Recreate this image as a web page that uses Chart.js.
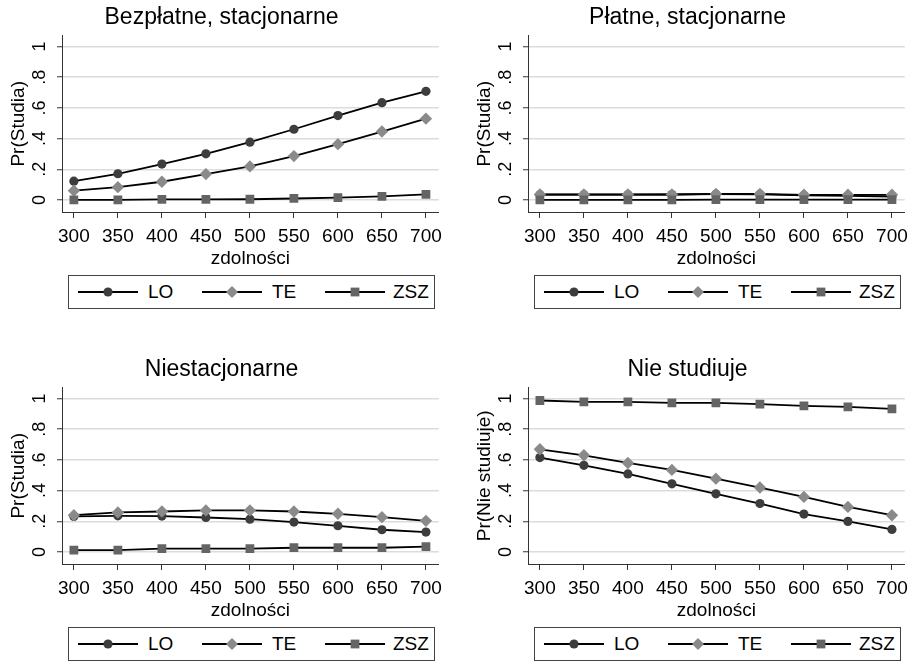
<!DOCTYPE html>
<html>
<head>
<meta charset="utf-8">
<script src="https://cdn.jsdelivr.net/npm/chart.js@4/dist/chart.umd.min.js"></script>
<style>
  body { margin: 0; background: #fff; width: 915px; height: 663px; overflow: hidden; position: relative;
         font-family: "Liberation Sans", Arial, sans-serif; }
  .panel { position: absolute; width: 449px; height: 311px; }
  .panel canvas { position: absolute; left: 0; top: 0; }
  .legend { position: absolute; left: 68px; top: 275px; width: 365px; height: 32px; border: 1px solid #444; }
  .legend svg { position: absolute; top: 9px; }
  .legend span { position: absolute; top: 5px; font-size: 19px; line-height: 22px; color: #000; }
</style>
</head>
<body>
<div class="panel" style="left:0;top:0"><canvas id="c1" width="449" height="270"></canvas><div class="legend" id="l1"></div></div>
<div class="panel" style="left:466px;top:0"><canvas id="c2" width="449" height="270"></canvas><div class="legend" id="l2"></div></div>
<div class="panel" style="left:0;top:352px"><canvas id="c3" width="449" height="270"></canvas><div class="legend" id="l3"></div></div>
<div class="panel" style="left:466px;top:352px"><canvas id="c4" width="449" height="270"></canvas><div class="legend" id="l4"></div></div>

<script>
// x values (zdolności) and axis ticks
const zdolnosci = [300, 350, 400, 450, 500, 550, 600, 650, 700];
const xTicks = [300, 350, 400, 450, 500, 550, 600, 650, 700];
const yTicks = [0, 0.2, 0.4, 0.6, 0.8, 1];
const yTickLabels = ['0', '.2', '.4', '.6', '.8', '1'];
const seriesNames = ['LO', 'TE', 'ZSZ'];

// Bezpłatne, stacjonarne
const bezplatneLO  = [0.123, 0.171, 0.234, 0.301, 0.377, 0.461, 0.550, 0.634, 0.708];
const bezplatneTE  = [0.061, 0.084, 0.119, 0.169, 0.219, 0.286, 0.364, 0.446, 0.530];
const bezplatneZSZ = [0.001, 0.001, 0.004, 0.004, 0.005, 0.010, 0.016, 0.024, 0.037];

// Płatne, stacjonarne
const platneLO  = [0.035, 0.035, 0.035, 0.036, 0.038, 0.037, 0.030, 0.028, 0.022];
const platneTE  = [0.036, 0.036, 0.036, 0.036, 0.040, 0.040, 0.034, 0.034, 0.034];
const platneZSZ = [0.001, 0.001, 0.001, 0.001, 0.002, 0.002, 0.002, 0.002, 0.002];

// Niestacjonarne
const niestLO  = [0.232, 0.236, 0.234, 0.225, 0.214, 0.195, 0.171, 0.145, 0.130];
const niestTE  = [0.240, 0.258, 0.264, 0.271, 0.271, 0.264, 0.249, 0.227, 0.203];
const niestZSZ = [0.013, 0.013, 0.022, 0.022, 0.022, 0.028, 0.028, 0.028, 0.035];

// Nie studiuje
const nieLO  = [0.615, 0.565, 0.509, 0.444, 0.379, 0.316, 0.247, 0.199, 0.147];
const nieTE  = [0.669, 0.630, 0.580, 0.535, 0.478, 0.420, 0.359, 0.294, 0.240];
const nieZSZ = [0.987, 0.978, 0.978, 0.972, 0.972, 0.963, 0.952, 0.946, 0.933];

const FONT = '"Liberation Sans", Arial, sans-serif';
const markers = [
  { style: 'circle',  radius: 4.6, color: '#3d3d3d' },
  { style: 'rectRot', radius: 6.2, color: '#8a8a8a' },
  { style: 'rect',    radius: 6.2, color: '#646464' }
];

// rotated y tick labels and y title, drawn like Stata does
const yLabels = {
  id: 'yLabels',
  afterDraw(chart, args, opts) {
    const { ctx, chartArea } = chart;
    const y = chart.scales.y;
    ctx.save();
    ctx.fillStyle = '#000';
    ctx.textAlign = 'center';
    ctx.textBaseline = 'alphabetic';
    ctx.font = '18px ' + FONT;
    yTicks.forEach((v, i) => {
      ctx.save();
      ctx.translate(45, y.getPixelForValue(v));
      ctx.rotate(-Math.PI / 2);
      ctx.fillText(yTickLabels[i], 0, 0);
      ctx.restore();
    });
    ctx.font = '19px ' + FONT;
    ctx.translate(24, (chartArea.top + chartArea.bottom) / 2);
    ctx.rotate(-Math.PI / 2);
    ctx.fillText(opts.text, 0, 0);
    ctx.restore();
  }
};

function makeChart(id, title, yTitle, lo, te, zsz) {
  const data = [lo, te, zsz];
  new Chart(document.getElementById(id), {
    type: 'line',
    data: {
      datasets: data.map((vals, i) => ({
        label: seriesNames[i],
        data: zdolnosci.map((x, j) => ({ x: x, y: vals[j] })),
        borderColor: '#000',
        borderWidth: 1.8,
        pointStyle: markers[i].style,
        pointRadius: markers[i].radius,
        pointBackgroundColor: markers[i].color,
        pointBorderColor: markers[i].color,
        pointBorderWidth: 0,
        order: 3 - i,
        tension: 0
      }))
    },
    options: {
      responsive: false,
      animation: false,
      devicePixelRatio: 1,
      layout: { padding: { left: 0, right: 6, top: 0, bottom: 0 } },
      plugins: {
        legend: { display: false },
        tooltip: { enabled: false },
        title: {
          display: true, text: title, color: '#000',
          font: { family: FONT, size: 23, weight: 'normal', lineHeight: 1.2 },
          padding: { top: 4, bottom: 4 }
        },
        yLabels: { text: yTitle }
      },
      scales: {
        x: {
          type: 'linear', min: 286.5, max: 714.6,
          afterBuildTicks: s => { s.ticks = xTicks.map(v => ({ value: v })); },
          afterFit: s => { s.height = 58; },
          ticks: { color: '#000', padding: 7, font: { family: FONT, size: 19 }, callback: v => String(v), maxRotation: 0 },
          grid: { drawOnChartArea: false, drawTicks: true, tickLength: 6, tickColor: '#333', tickWidth: 1 },
          border: { display: true, color: '#333', width: 1 },
          title: { display: true, text: 'zdolności', color: '#000', font: { family: FONT, size: 19 }, padding: { top: 0, bottom: 0 } }
        },
        y: {
          type: 'linear', min: -0.078, max: 1.071,
          afterBuildTicks: s => { s.ticks = yTicks.map(v => ({ value: v })); },
          afterFit: s => { s.width = 62; },
          ticks: { display: false },
          grid: { color: '#dcdcdc', lineWidth: 1.5, drawTicks: true, tickLength: 5, tickColor: '#333', tickWidth: 1 },
          border: { display: true, color: '#333', width: 1 }
        }
      }
    },
    plugins: [yLabels]
  });
}

function makeLegend(id) {
  const el = document.getElementById(id);
  const lineX = [9, 133, 256];
  const textX = [79, 203, 324];
  seriesNames.forEach((name, i) => {
    const m = markers[i];
    let mk;
    if (m.style === 'circle') mk = `<circle cx="30" cy="7" r="4.6" fill="${m.color}"/>`;
    else if (m.style === 'rectRot') mk = `<polygon points="30,1 36,7 30,13 24,7" fill="${m.color}"/>`;
    else mk = `<rect x="25.6" y="2.6" width="8.8" height="8.8" fill="${m.color}"/>`;
    el.innerHTML += `<svg width="60" height="14" style="left:${lineX[i]}px"><line x1="0" y1="7" x2="60" y2="7" stroke="#000" stroke-width="1.8"/>${mk}</svg>` +
      `<span style="left:${textX[i]}px">${name}</span>`;
  });
}

makeChart('c1', 'Bezpłatne, stacjonarne', 'Pr(Studia)', bezplatneLO, bezplatneTE, bezplatneZSZ);
makeChart('c2', 'Płatne, stacjonarne', 'Pr(Studia)', platneLO, platneTE, platneZSZ);
makeChart('c3', 'Niestacjonarne', 'Pr(Studia)', niestLO, niestTE, niestZSZ);
makeChart('c4', 'Nie studiuje', 'Pr(Nie studiuje)', nieLO, nieTE, nieZSZ);
['l1', 'l2', 'l3', 'l4'].forEach(makeLegend);
</script>
</body>
</html>
